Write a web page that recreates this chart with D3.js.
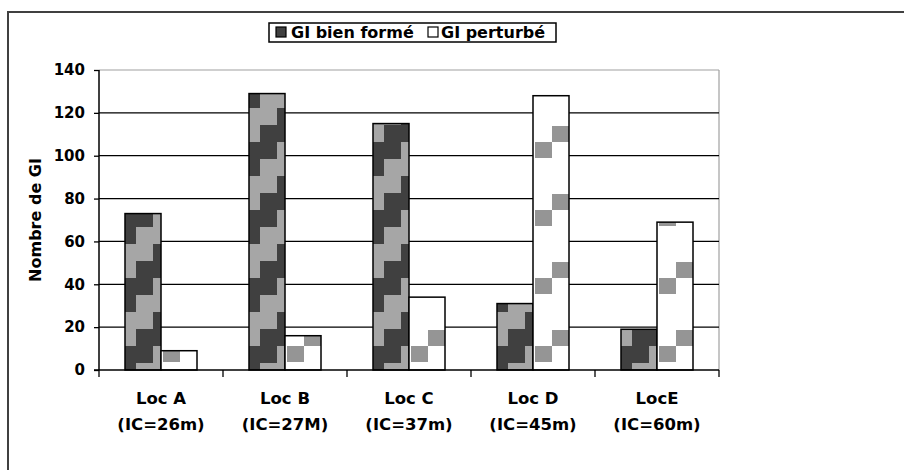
<!DOCTYPE html>
<html>
<head>
<meta charset="utf-8">
<script src="https://cdn.jsdelivr.net/npm/d3@7"></script>
<style>
  html, body { margin: 0; padding: 0; background: #fff; }
  svg { display: block; }
  text { font-family: "DejaVu Sans", Verdana, sans-serif; font-weight: bold; fill: #000; }
</style>
</head>
<body>
<svg id="chart" width="904" height="470"></svg>
<script>
// ---- data ----
const locNames = ["Loc A", "Loc B", "Loc C", "Loc D", "LocE"];
const locIC = ["(IC=26m)", "(IC=27M)", "(IC=37m)", "(IC=45m)", "(IC=60m)"];
const seriesNames = ["GI bien formé", "GI perturbé"];
const bienForme = [73, 129, 115, 31, 19];
const perturbe = [9, 16, 34, 128, 69];
const yTicks = [0, 20, 40, 60, 80, 100, 120, 140];
const yTitle = "Nombre de GI";

// ---- layout ----
const svg = d3.select("#chart");
const plot = { left: 99, right: 719, top: 70, bottom: 370 };

const x = d3.scaleBand().domain(locNames).range([plot.left, plot.right]).paddingInner(0).paddingOuter(0);
const xs = d3.scaleBand().domain(seriesNames).range([0, x.bandwidth()]).paddingInner(0).paddingOuter(26 / 36);
const y = d3.scaleLinear().domain([0, 140]).range([plot.bottom, plot.top]);

// outer frame
svg.append("rect").attr("x", 8).attr("y", 12).attr("width", 1000).attr("height", 1000)
  .attr("fill", "none").attr("stroke", "#404040").attr("stroke-width", 2);

// plot border (grey top and right)
svg.append("line").attr("x1", plot.left).attr("x2", plot.right).attr("y1", plot.top).attr("y2", plot.top)
  .attr("stroke", "#a0a0a0").attr("stroke-width", 1.2);
svg.append("line").attr("x1", plot.right).attr("x2", plot.right).attr("y1", plot.top).attr("y2", plot.bottom)
  .attr("stroke", "#a0a0a0").attr("stroke-width", 1.2);

// gridlines
svg.append("g").selectAll("line").data(yTicks.filter(d => d > 0 && d < 140)).join("line")
  .attr("x1", plot.left).attr("x2", plot.right)
  .attr("y1", d => y(d)).attr("y2", d => y(d))
  .attr("stroke", "#000").attr("stroke-width", 1.3);

// patterns
const defs = svg.append("defs");
const rows = [];
locNames.forEach((loc, i) => {
  rows.push({ loc, s: seriesNames[0], v: bienForme[i], i, k: 0 });
  rows.push({ loc, s: seriesNames[1], v: perturbe[i], i, k: 1 });
});
rows.forEach(r => {
  const bx = x(r.loc) + xs(r.s);
  if (r.k === 0) {
    const p = defs.append("pattern").attr("id", `p${r.k}_${r.i}`).attr("patternUnits", "userSpaceOnUse")
      .attr("x", bx + 28).attr("y", 40).attr("width", 68).attr("height", 68);
    p.append("rect").attr("width", 68).attr("height", 68).attr("fill", "#a6a6a6");
    for (let row = 0; row < 4; row++) {
      const c0 = ((0 - row) % 4 + 4) % 4;
      [c0, (c0 + 1) % 4].forEach(c => {
        p.append("rect").attr("x", c * 17).attr("y", row * 17).attr("width", 17).attr("height", 17).attr("fill", "#404040");
      });
    }
  } else {
    const p = defs.append("pattern").attr("id", `p${r.k}_${r.i}`).attr("patternUnits", "userSpaceOnUse")
      .attr("x", bx + 2).attr("y", 58).attr("width", 40).attr("height", 68);
    p.append("rect").attr("width", 40).attr("height", 68).attr("fill", "#fff");
    p.append("rect").attr("x", 17).attr("y", 0).attr("width", 17).attr("height", 16).attr("fill", "#959595");
    p.append("rect").attr("x", 0).attr("y", 16).attr("width", 17).attr("height", 16).attr("fill", "#959595");
  }
});

// bars
svg.append("g").selectAll("rect").data(rows).join("rect")
  .attr("x", d => x(d.loc) + xs(d.s))
  .attr("y", d => y(d.v))
  .attr("width", xs.bandwidth())
  .attr("height", d => y(0) - y(d.v))
  .attr("fill", d => `url(#p${d.k}_${d.i})`)
  .attr("stroke", "#000").attr("stroke-width", 1.5);

// y axis
const yAxis = svg.append("g").attr("transform", `translate(${plot.left},0)`)
  .call(d3.axisLeft(y).tickValues(yTicks).tickSize(5).tickPadding(9).tickFormat(d3.format("d")));
yAxis.select(".domain").attr("stroke", "#000").attr("stroke-width", 1.5).attr("d", `M0,${plot.top}V${plot.bottom}`);
yAxis.selectAll(".tick line").attr("stroke", "#000").attr("stroke-width", 1.3);
yAxis.selectAll(".tick text").attr("font-size", 15).attr("font-family", "DejaVu Sans").attr("font-weight", "bold").attr("fill", "#000");

// x axis line and boundary ticks
svg.append("line").attr("x1", plot.left - 5).attr("x2", plot.right).attr("y1", plot.bottom).attr("y2", plot.bottom)
  .attr("stroke", "#000").attr("stroke-width", 1.5);
const bounds = locNames.map(d => x(d)).concat([x(locNames[locNames.length - 1]) + x.bandwidth()]);
svg.append("g").selectAll("line").data(bounds).join("line")
  .attr("x1", d => d).attr("x2", d => d).attr("y1", plot.bottom).attr("y2", plot.bottom + 7)
  .attr("stroke", "#000").attr("stroke-width", 1.3);

// x labels
const xl = svg.append("g").selectAll("text").data(locNames).join("text")
  .attr("text-anchor", "middle").attr("font-size", 16.5)
  .attr("x", d => x(d) + x.bandwidth() / 2);
xl.append("tspan").attr("x", d => x(d) + x.bandwidth() / 2).attr("y", 404).text(d => d);
xl.append("tspan").attr("x", d => x(d) + x.bandwidth() / 2).attr("y", 430).text((d, i) => locIC[i]);

// y title
svg.append("text").attr("transform", "translate(41,220) rotate(-90)")
  .attr("text-anchor", "middle").attr("font-size", 16).text(yTitle);

// legend
const lg = svg.append("g");
lg.append("rect").attr("x", 269).attr("y", 23).attr("width", 287).attr("height", 19)
  .attr("fill", "#fff").attr("stroke", "#000").attr("stroke-width", 1.5);
const legItems = [{ name: seriesNames[0], fill: "#404040", sx: 276, tx: 291 }, { name: seriesNames[1], fill: "#fff", sx: 428, tx: 441 }];
legItems.forEach(it => {
  lg.append("rect").attr("x", it.sx).attr("y", 27).attr("width", 10).attr("height", 10)
    .attr("fill", it.fill).attr("stroke", "#000").attr("stroke-width", 1.2);
  lg.append("text").attr("x", it.tx).attr("y", 38).attr("font-size", 16).text(it.name);
});
</script>
</body>
</html>
